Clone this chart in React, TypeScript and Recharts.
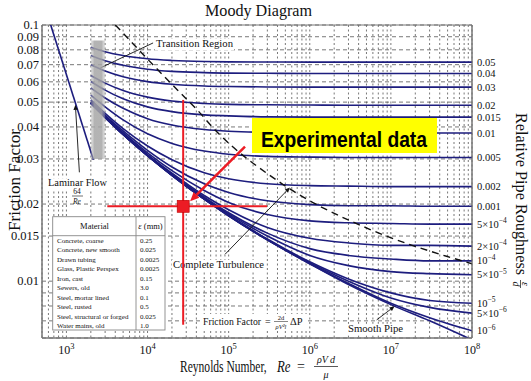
import React from 'react';
import {
  ComposedChart, Line, Scatter, XAxis, YAxis, CartesianGrid, ReferenceLine, ReferenceArea,
} from 'recharts';

const W = 531;
const H = 381;
const SERIF = '"Liberation Serif", "DejaVu Serif", serif';
const NAVY = '#1d1d7e';
const RED = '#ec1c24';
const INK = '#111';

const RE_DOMAIN: [number, number] = [500, 1e8];
const F_DOMAIN: [number, number] = [0.006, 0.1];

// Reynolds numbers at which each roughness curve was read off the picture
const RE = [2000, 3000, 5000, 1e4, 2e4, 5e4, 1e5, 3e5, 1e6, 3e6, 1e7, 3e7, 1e8];

const eps_005 = [0.0819, 0.0787, 0.0760, 0.0738, 0.0727, 0.0720, 0.0718, 0.0717, 0.0716, 0.0716, 0.0716, 0.0716, 0.0716];
const eps_004 = [0.0760, 0.0725, 0.0696, 0.0672, 0.0659, 0.0652, 0.0649, 0.0648, 0.0647, 0.0647, 0.0647, 0.0647, 0.0647];
const eps_003 = [0.0699, 0.0661, 0.0628, 0.0601, 0.0587, 0.0578, 0.0575, 0.0573, 0.0572, 0.0572, 0.0572, 0.0572, 0.0572];
const eps_002 = [0.0635, 0.0593, 0.0555, 0.0523, 0.0505, 0.0494, 0.0490, 0.0488, 0.0487, 0.0486, 0.0486, 0.0486, 0.0486];
const eps_0015 = [0.0602, 0.0557, 0.0515, 0.0479, 0.0459, 0.0446, 0.0442, 0.0438, 0.0437, 0.0437, 0.0437, 0.0437, 0.0437];
const eps_001 = [0.0568, 0.0519, 0.0473, 0.0431, 0.0407, 0.0391, 0.0385, 0.0381, 0.0380, 0.0379, 0.0379, 0.0379, 0.0379];
const eps_0005 = [0.0532, 0.0479, 0.0426, 0.0376, 0.0345, 0.0322, 0.0313, 0.0307, 0.0305, 0.0304, 0.0304, 0.0304, 0.0304];
const eps_0002 = [0.0510, 0.0452, 0.0394, 0.0337, 0.0298, 0.0265, 0.0251, 0.0240, 0.0236, 0.0235, 0.0234, 0.0234, 0.0234];
const eps_0001 = [0.0502, 0.0444, 0.0386, 0.0324, 0.0279, 0.0240, 0.0222, 0.0206, 0.0199, 0.0197, 0.0197, 0.0196, 0.0196];
const eps_5e4 = [0.0498, 0.0440, 0.0380, 0.0317, 0.0270, 0.0226, 0.0203, 0.0182, 0.0172, 0.0169, 0.0168, 0.0167, 0.0167];
const eps_2e4 = [0.0497, 0.0438, 0.0376, 0.0312, 0.0264, 0.0216, 0.0190, 0.0162, 0.0147, 0.0141, 0.0138, 0.0138, 0.0137];
const eps_1e4 = [0.0496, 0.0437, 0.0375, 0.0310, 0.0261, 0.0213, 0.0185, 0.0154, 0.0134, 0.0126, 0.0122, 0.0120, 0.0120];
const eps_5e5 = [0.0495, 0.0436, 0.0374, 0.0309, 0.0260, 0.0211, 0.0183, 0.0150, 0.0126, 0.0115, 0.0109, 0.0107, 0.0106];
const eps_1e5 = [0.0495, 0.0436, 0.0374, 0.0309, 0.0259, 0.0209, 0.0181, 0.0146, 0.0119, 0.0102, 0.0090, 0.0084, 0.0082];
const eps_5e6 = [0.0495, 0.0436, 0.0374, 0.0309, 0.0259, 0.0209, 0.0180, 0.0145, 0.0118, 0.0100, 0.0086, 0.0079, 0.0075];
const eps_1e6 = [0.0495, 0.0436, 0.0374, 0.0309, 0.0259, 0.0209, 0.0180, 0.0145, 0.0117, 0.0098, 0.0082, 0.0072, 0.0064];
const smoothPipe = [0.0495, 0.0436, 0.0374, 0.0309, 0.0259, 0.0209, 0.0180, 0.0145, 0.0117, 0.0097, 0.0081, 0.0070, 0.0059];

const ROUGHNESS_LABELS = [
  '0.05', '0.04', '0.03', '0.02', '0.015', '0.01', '0.005', '0.002', '0.001',
  '5×10^−4', '2×10^−4', '10^−4', '5×10^−5', '10^−5', '5×10^−6', '10^−6',
];
const ROUGH_CURVES = [
  eps_005, eps_004, eps_003, eps_002, eps_0015, eps_001, eps_0005, eps_0002, eps_0001,
  eps_5e4, eps_2e4, eps_1e4, eps_5e5, eps_1e5, eps_5e6, eps_1e6,
];
const ROUGH_END = ROUGH_CURVES.map((c) => c[c.length - 1]);

const LAMINAR_RE = [640, 2150];
const LAMINAR_F = [0.1, 0.0298];

// "complete turbulence" boundary (dashed)
const BOUNDARY_RE = [4010, 23200, 40800, 64300, 429000, 5.48e6, 4.85e7, 1e8];
const BOUNDARY_F = [0.1, 0.0559, 0.0467, 0.0397, 0.0243, 0.01594, 0.01251, 0.0117];

// transition band
const BAND_RE = [2000, 3000];
const BAND_F = [0.030, 0.087];

// annotation pointers [Re, f] -> [Re, f]
const PTR_TRANSITION = [[11700, 0.0851], [2620, 0.068]];
const PTR_LAMINAR = [[1445, 0.0266], [1290, 0.0488]];
const PTR_TURBULENCE = [[90400, 0.01274], [569000, 0.0232]];
const PTR_SMOOTH = [[6.68e6, 0.00706], [1.11e7, 0.00798]];

// experimental point and its red guides
const RED_POINT = [{ re: 27500, f: 0.0196 }];
const RED_V = [[27500, 0.051], [27500, 0.00676]];
const RED_H = [[3190, 0.0196], [297000, 0.0196]];
const RED_ARROW = [[159000, 0.0335], [33500, 0.0205]];

const Y_TICKS = [0.007, 0.008, 0.009, 0.01, 0.015, 0.02, 0.03, 0.04, 0.05, 0.06, 0.07, 0.08, 0.09, 0.1];
const Y_LABELED = [0.01, 0.015, 0.02, 0.03, 0.04, 0.05, 0.06, 0.07, 0.08, 0.09, 0.1];

const MATERIALS = [
  'Concrete, coarse', 'Concrete, new smooth', 'Drawn tubing', 'Glass, Plastic Perspex', 'Iron, cast',
  'Sewers, old', 'Steel, mortar lined', 'Steel, rusted', 'Steel, structural or forged', 'Water mains, old',
];
const EPS_MM = ['0.25', '0.025', '0.0025', '0.0025', '0.15', '3.0', '0.1', '0.5', '0.025', '1.0'];

// minor log grid 600 .. 1e8
const X_TICKS: number[] = [];
for (let e = 2; e <= 7; e++) {
  for (let m = 1; m <= 9; m++) {
    const v = m * 10 ** e;
    if (v > 500) X_TICKS.push(v);
  }
}
X_TICKS.push(1e8);

const pts = (xs: number[], ys: number[]) => xs.map((re, i) => ({ re, f: ys[i] }));
const seg = (s: number[][]) => s.map(([x, y]) => ({ x, y }));

function XTick({ x, y, payload }: any) {
  const e = Math.log10(payload.value);
  if (Math.abs(e - Math.round(e)) > 1e-9) return <g />;
  return (
    <text x={x} y={y + 16} textAnchor="middle" fontFamily={SERIF} fontSize={12} fill={INK}>
      10<tspan dy={-5} fontSize={8.5}>{Math.round(e)}</tspan>
    </text>
  );
}

function YTick({ x, y, payload }: any) {
  if (!Y_LABELED.includes(payload.value)) return <g />;
  return (
    <text x={x} y={y + 4.3} textAnchor="end" fontFamily={SERIF} fontSize={12.5} fill={INK}>
      {String(payload.value)}
    </text>
  );
}

function RTick({ x, y, payload }: any) {
  const lab = ROUGHNESS_LABELS[ROUGH_END.indexOf(payload.value)];
  if (!lab) return <g />;
  const [base, exp] = lab.split('^');
  return (
    <text x={x} y={y + 3.6} textAnchor="start" fontFamily={SERIF} fontSize={10.5} fill={INK}>
      {base}
      {exp && <tspan dy={-4.5} fontSize={7.5}>{exp}</tspan>}
    </text>
  );
}

const arrowShape = (color: string, width: number, head: number) => (p: any) => {
  const { x1, y1, x2, y2 } = p;
  const a = Math.atan2(y2 - y1, x2 - x1);
  const hx = x2 - head * Math.cos(a);
  const hy = y2 - head * Math.sin(a);
  const px = Math.sin(a) * head * 0.45;
  const py = -Math.cos(a) * head * 0.45;
  return (
    <g>
      <line x1={x1} y1={y1} x2={head ? hx : x2} y2={head ? hy : y2} stroke={color} strokeWidth={width} />
      {head > 0 && <polygon points={`${x2},${y2} ${hx + px},${hy + py} ${hx - px},${hy - py}`} fill={color} />}
    </g>
  );
};

const bandShape = (p: any) => (
  <g>
    <defs>
      <linearGradient id="bandGrad" x1="0" y1="0" x2="1" y2="0">
        <stop offset="0%" stopColor="#b4b4b4" stopOpacity={0.35} />
        <stop offset="25%" stopColor="#a6a6a6" stopOpacity={0.85} />
        <stop offset="75%" stopColor="#a6a6a6" stopOpacity={0.85} />
        <stop offset="100%" stopColor="#b4b4b4" stopOpacity={0.35} />
      </linearGradient>
    </defs>
    <rect x={p.x} y={p.y} width={p.width} height={p.height} fill="url(#bandGrad)" />
  </g>
);

function TextBox({ x, y, w, size, children, bg = true }: any) {
  return (
    <g>
      {bg && <rect x={x - 1} y={y - size * 0.78} width={w + 2} height={size + 1} fill="#fff" />}
      <text x={x} y={y} fontSize={size} textLength={w} lengthAdjust="spacingAndGlyphs" fill={INK}>{children}</text>
    </g>
  );
}

function Overlay() {
  return (
    <svg width={W} height={H} style={{ position: 'absolute', left: 0, top: 0 }} fontFamily={SERIF}>
      <text x={205} y={16} fontSize={17} textLength={107} lengthAdjust="spacingAndGlyphs" fill={INK}>Moody Diagram</text>

      <text transform="translate(20,180) rotate(-90)" textAnchor="middle" fontSize={17} textLength={102} lengthAdjust="spacingAndGlyphs" fill={INK}>Friction Factor</text>

      <text transform="translate(516,113) rotate(90)" fontSize={16} textLength={162} lengthAdjust="spacingAndGlyphs" fill={INK}>Relative Pipe Roughness</text>
      <g transform="translate(516,284) rotate(90)" fill={INK}>
        <text x={0} y={-6} textAnchor="middle" fontSize={10} fontStyle="italic">ε</text>
        <line x1={-4} x2={4} y1={-4.5} y2={-4.5} stroke={INK} strokeWidth={0.7} />
        <text x={0} y={3} textAnchor="middle" fontSize={10} fontStyle="italic">d</text>
      </g>

      <text transform="translate(180,372) scale(0.68,1)" fontSize={17} fill={INK}>Reynolds Number,</text>
      <text transform="translate(277,372) scale(0.8,1)" fontSize={16} fontStyle="italic" fill={INK}>Re</text>
      <text x={297} y={371} fontSize={14} fill={INK}>=</text>
      <text x={326} y={362.5} textAnchor="middle" fontSize={10} fontStyle="italic" fill={INK}>ρV d</text>
      <line x1={314} x2={338} y1={366.5} y2={366.5} stroke={INK} strokeWidth={0.7} />
      <text x={326} y={377.5} textAnchor="middle" fontSize={10} fontStyle="italic" fill={INK}>μ</text>

      <TextBox x={156} y={47} w={77} size={10.5}>Transition Region</TextBox>
      <TextBox x={48} y={186} w={59} size={10}>Laminar Flow</TextBox>
      <text x={77} y={194} textAnchor="middle" fontSize={7.5} fill={INK}>64</text>
      <line x1={72} x2={83} y1={196} y2={196} stroke={INK} strokeWidth={0.6} />
      <text x={77} y={203.5} textAnchor="middle" fontSize={7.5} fontStyle="italic" fill={INK}>Re</text>
      <TextBox x={173} y={268} w={91} size={10.5}>Complete Turbulence</TextBox>
      <TextBox x={348} y={332} w={55} size={10.5}>Smooth Pipe</TextBox>

      <rect x={201} y={314} width={106} height={17} fill="#fff" />
      <text x={203} y={325} fontSize={10.5} textLength={58} lengthAdjust="spacingAndGlyphs" fill={INK}>Friction Factor</text>
      <text x={265} y={325} fontSize={10} fill={INK}>=</text>
      <text x={281} y={319.5} textAnchor="middle" fontSize={6.5} fill={INK}>2d</text>
      <line x1={274} x2={288} y1={321.5} y2={321.5} stroke={INK} strokeWidth={0.5} />
      <text x={281} y={328.5} textAnchor="middle" fontSize={6.5} fontStyle="italic" fill={INK}>ρV²l</text>
      <text x={290} y={325} fontSize={10.5} fill={INK}>ΔP</text>

      <g>
        <rect x={52.7} y={216.7} width={112.3} height={113.3} fill="#fff" stroke="#888" strokeWidth={0.9} />
        <line x1={52.7} x2={165} y1={235.7} y2={235.7} stroke="#888" strokeWidth={0.9} />
        <line x1={136} x2={136} y1={216.7} y2={330} stroke="#888" strokeWidth={0.9} />
        <text x={94.5} y={228.8} textAnchor="middle" fontSize={8.5} fill={INK}>Material</text>
        <text x={150.5} y={228.8} textAnchor="middle" fontSize={8.5} fill={INK}>
          <tspan fontStyle="italic">ε</tspan> (mm)
        </text>
        {MATERIALS.map((m, i) => (
          <g key={m}>
            <text x={57} y={243 + i * 9.45} fontSize={7} fill={INK}>{m}</text>
            <text x={140} y={243 + i * 9.45} fontSize={7} fill={INK}>{EPS_MM[i]}</text>
          </g>
        ))}
      </g>

      <rect x={252} y={118} width={185} height={35} fill="#ffff00" />
      <text x={261} y={146.5} fontFamily='"Liberation Sans Narrow", "Liberation Sans", Arial, sans-serif' fontWeight="bold" fontSize={22} textLength={166} lengthAdjust="spacingAndGlyphs" fill="#000">Experimental data</text>
    </svg>
  );
}

export default function App() {
  const logX = { dataKey: 're', type: 'number' as const, scale: 'log' as const, domain: RE_DOMAIN, allowDataOverflow: true };
  const logY = { dataKey: 'f', type: 'number' as const, scale: 'log' as const, domain: F_DOMAIN, allowDataOverflow: true };
  return (
    <div style={{ position: 'absolute', left: 0, top: 0, width: W, height: H, background: '#fff' }}>
      <div style={{ position: 'absolute', left: 0, top: 0 }}>
        <ComposedChart width={W} height={H} margin={{ top: 25, right: 0, bottom: 0, left: 0 }}>
          <CartesianGrid horizontal={false} stroke="#555" strokeWidth={0.8} strokeDasharray="2 2.5" />
          <CartesianGrid vertical={false} stroke="#555" strokeWidth={0.8} strokeDasharray="4 3" />
          <XAxis {...logX} ticks={X_TICKS} interval={0} tick={XTick} tickLine={false} tickSize={0} tickMargin={0} height={43} axisLine={{ stroke: '#777' }} />
          <YAxis {...logY} ticks={Y_TICKS} interval={0} tick={YTick} tickLine={false} tickSize={0} tickMargin={3} width={42} axisLine={{ stroke: '#777' }} />
          <YAxis yAxisId="r" orientation="right" type="number" scale="log" domain={F_DOMAIN} allowDataOverflow ticks={ROUGH_END} interval={0} tick={RTick} tickLine={false} tickSize={0} tickMargin={5} width={59} axisLine={{ stroke: '#777' }} />
          <ReferenceArea x1={RE_DOMAIN[0]} x2={RE_DOMAIN[1]} y1={F_DOMAIN[0]} y2={F_DOMAIN[1]} fill="none" stroke="#777" strokeWidth={1} />
          {ROUGH_CURVES.map((c, i) => (
            <Line key={ROUGHNESS_LABELS[i]} data={pts(RE, c)} dataKey="f" type="monotone" stroke={NAVY} strokeWidth={1.6} dot={false} isAnimationActive={false} />
          ))}
          <Line data={pts(RE, smoothPipe)} dataKey="f" type="monotone" stroke={NAVY} strokeWidth={1.6} dot={false} isAnimationActive={false} />
          <Line data={pts(LAMINAR_RE, LAMINAR_F)} dataKey="f" type="linear" stroke={NAVY} strokeWidth={1.6} dot={false} isAnimationActive={false} />
          <Line data={pts(BOUNDARY_RE, BOUNDARY_F)} dataKey="f" type="monotone" stroke="#111" strokeWidth={1.4} strokeDasharray="7 5" dot={false} isAnimationActive={false} />
          <ReferenceLine segment={seg(PTR_TRANSITION)} shape={arrowShape('#111', 0.9, 0)} />
          <ReferenceLine segment={seg(PTR_LAMINAR)} shape={arrowShape('#111', 0.9, 5)} />
          <ReferenceLine segment={seg(PTR_TURBULENCE)} shape={arrowShape('#111', 0.9, 5)} />
          <ReferenceLine segment={seg(PTR_SMOOTH)} shape={arrowShape('#111', 0.9, 5)} />
        </ComposedChart>
      </div>
      <Overlay />
      <div style={{ position: 'absolute', left: 0, top: 0 }}>
        <ComposedChart width={W} height={H} margin={{ top: 25, right: 59, bottom: 43, left: 42 }}>
          <XAxis {...logX} hide />
          <YAxis {...logY} hide />
          <ReferenceArea x1={BAND_RE[0]} x2={BAND_RE[1]} y1={BAND_F[0]} y2={BAND_F[1]} shape={bandShape} />
          <ReferenceLine segment={seg(RED_V)} shape={arrowShape(RED, 2, 0)} />
          <ReferenceLine segment={seg(RED_H)} shape={arrowShape(RED, 2, 0)} />
          <ReferenceLine segment={seg(RED_ARROW)} shape={arrowShape(RED, 2.5, 9)} />
          <Scatter data={RED_POINT} dataKey="f" isAnimationActive={false}
            shape={(p: any) => <rect x={p.cx - 6} y={p.cy - 6} width={12} height={12} fill={RED} stroke="#b00" strokeWidth={0.6} />} />
        </ComposedChart>
      </div>
    </div>
  );
}
